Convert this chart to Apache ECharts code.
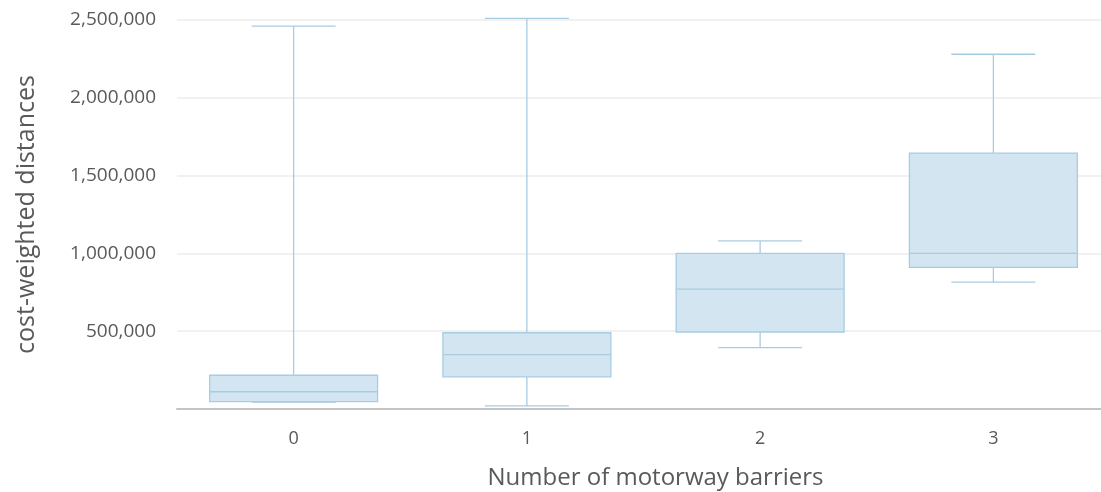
<!DOCTYPE html>
<html>
<head>
<meta charset="utf-8">
<script src="https://cdn.jsdelivr.net/npm/echarts@6/dist/echarts.min.js"></script>
<style>
  html, body { margin: 0; padding: 0; background: #fff; }
  #chart { width: 1101px; height: 492px; }
</style>
</head>
<body>
<div id="chart"></div>
<script>
// number of motorway barriers
const categories = ['0', '1', '2', '3'];
// box plot stats
const lowWhisker = [45000, 20000, 395000, 815000];
const q1 = [47000, 207000, 495000, 910000];
const median = [111000, 350000, 770000, 1000000];
const q3 = [217000, 490000, 1000000, 1645000];
const highWhisker = [2460000, 2510000, 1080000, 2280000];

const boxFill = '#d2e5f1';
const boxLine = '#a8cce2';

const chart = echarts.init(document.getElementById('chart'));

const rows = categories.map((c, i) => [i, lowWhisker[i], q1[i], median[i], q3[i], highWhisker[i]]);

function renderBox(params, api) {
  const x = api.value(0);
  const pLow = api.coord([x, api.value(1)]);
  const pQ1 = api.coord([x, api.value(2)]);
  const pMed = api.coord([x, api.value(3)]);
  const pQ3 = api.coord([x, api.value(4)]);
  const pHigh = api.coord([x, api.value(5)]);
  const band = api.size([1, 0])[0];
  const bw = band * 0.72;
  const cw = band * 0.36;
  const cx = pMed[0];
  const lineStyle = {stroke: boxLine, lineWidth: 1.3};
  return {
    type: 'group',
    children: [
      {type: 'line', shape: {x1: cx, y1: pQ3[1], x2: cx, y2: pHigh[1]}, style: lineStyle},
      {type: 'line', shape: {x1: cx, y1: pQ1[1], x2: cx, y2: pLow[1]}, style: lineStyle},
      {type: 'line', shape: {x1: cx - cw / 2, y1: pHigh[1], x2: cx + cw / 2, y2: pHigh[1]}, style: lineStyle},
      {type: 'line', shape: {x1: cx - cw / 2, y1: pLow[1], x2: cx + cw / 2, y2: pLow[1]}, style: lineStyle},
      {
        type: 'rect',
        shape: {x: cx - bw / 2, y: pQ3[1], width: bw, height: pQ1[1] - pQ3[1]},
        style: {fill: boxFill, stroke: boxLine, lineWidth: 1.3}
      },
      {type: 'line', shape: {x1: cx - bw / 2, y1: pMed[1], x2: cx + bw / 2, y2: pMed[1]}, style: lineStyle}
    ]
  };
}

const option = {
  animation: false,
  textStyle: {fontFamily: 'Open Sans'},
  grid: {
    left: 177,
    top: 20,
    width: 933,
    height: 389,
    containLabel: false,
    outerBoundsMode: 'none'
  },
  xAxis: {
    type: 'category',
    data: categories,
    name: 'Number of motorway barriers',
    nameLocation: 'middle',
    nameGap: 57,
    nameTextStyle: {fontSize: 24, color: '#595959', padding: [0, 0, 0, 24]},
    axisLine: {lineStyle: {color: '#c4c4c4', width: 2}},
    axisTick: {alignWithLabel: true, length: 5, lineStyle: {color: '#aaaaaa'}},
    axisLabel: {fontSize: 18, color: '#595959', margin: 21},
    splitLine: {show: false}
  },
  yAxis: {
    type: 'value',
    min: 0,
    max: 2500000,
    interval: 500000,
    name: 'cost-weighted distances',
    nameLocation: 'middle',
    nameRotate: 90,
    nameGap: 138,
    nameTextStyle: {fontSize: 25, color: '#595959'},
    axisLine: {show: false},
    axisTick: {show: false},
    axisLabel: {
      fontSize: 19,
      color: '#595959',
      margin: 21,
      formatter: v => (v === 0 ? '' : v.toLocaleString('en-US'))
    },
    splitLine: {lineStyle: {color: '#ececec', width: 1.5}}
  },
  series: [
    {
      type: 'custom',
      renderItem: renderBox,
      encode: {x: 0, y: [1, 2, 3, 4, 5]},
      data: rows
    }
  ]
};

chart.setOption(option);
</script>
</body>
</html>
